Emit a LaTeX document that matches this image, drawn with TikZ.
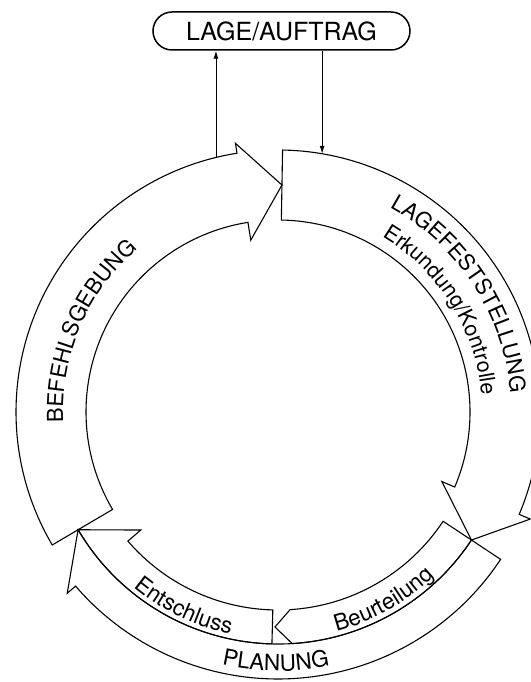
\documentclass[tikz,border=0pt]{standalone}
\usepackage{fontspec}
\setmainfont{TeX Gyre Heros}
\usetikzlibrary{arrows.meta,decorations.text}

\newcommand{\bandfont}{\fontsize{22}{26}\selectfont}
\newcommand{\lowfont}{\fontsize{22.5}{26}\selectfont}

\begin{document}
\begin{tikzpicture}[x=1pt,y=1pt,
    band/.style={draw, line width=1.1pt},
    curved/.style={decorate, decoration={text along path, text align=center, text={#1}}},
    link/.style={line width=0.9pt, -{Latex[length=8pt,width=5pt]}}]
    \useasboundingbox (-278,-270) rectangle (252,412);
    \def\ri{192} \def\ro{262}            % main ring
    \def\li{198} \def\lm{232} \def\lo{267} % lower bands

    % Lage / Auftrag
    \node[draw, line width=1.5pt, rounded corners=19pt, minimum width=257pt,
          minimum height=38pt, font=\fontsize{25}{28}\selectfont] (lage) at (3.5,381) {LAGE/AUFTRAG};

    % Lagefeststellung
    \draw[band] (89:\ro) arc[start angle=89, end angle=-23, radius=\ro]
        -- (-23:274) -- (-33.5:\lm) -- (-23:178) -- (-23:\ri)
        arc[start angle=-23, end angle=89, radius=\ri] -- cycle;
    \path[curved={|\bandfont|LAGEFESTSTELLUNG}] (78:233) arc[start angle=78, end angle=-12, radius=233];
    \path[curved={|\fontsize{21.5}{26}\selectfont|Erkundung/Kontrolle}] (77:204) arc[start angle=77, end angle=-13, radius=204];

    % Befehlsgebung
    \draw[band] (210.5:\ro) arc[start angle=210.5, end angle=99, radius=\ro]
        -- (99:272) -- (89:227) -- (99:174) -- (99:\ri)
        arc[start angle=99, end angle=210.5, radius=\ri] -- cycle;
    \path[curved={|\bandfont|BEFEHLSGEBUNG}] (201.75:215) arc[start angle=201.75, end angle=111.75, radius=215];

    % Planung: Beurteilung, Entschluss
    \draw[band] (-33.5:\li) -- (-33.5:\lm) arc[start angle=-33.5, end angle=-86.5, radius=\lm]
        -- (-90.8:215) -- (-86.5:\li) arc[start angle=-86.5, end angle=-33.5, radius=\li] -- cycle;
    \draw[band] (-91.5:\li) -- (-91.5:\lm) arc[start angle=-91.5, end angle=-149.5, radius=\lm]
        -- (-139.3:181) -- (-139.3:\li) arc[start angle=-139.3, end angle=-91.5, radius=\li] -- cycle;
    \draw[band] (-33.5:\lm) -- (-33.5:\lo) arc[start angle=-33.5, end angle=-139.3, radius=\lo]
        -- (-139.3:278) -- (-149.5:\lm) arc[start angle=-149.5, end angle=-33.5, radius=\lm] -- cycle;
    \path[curved={|\lowfont|Beurteilung}] (-85.7:227) arc[start angle=-85.7, end angle=-35.7, radius=227];
    \path[curved={|\lowfont|Entschluss}] (-140.8:227) arc[start angle=-140.8, end angle=-90.8, radius=227];
    \path[curved={|\lowfont|PLANUNG}] (-120.5:259) arc[start angle=-120.5, end angle=-60.5, radius=259];

    % connections to Lage / Auftrag
    \coordinate (befout) at (103.7:\ro);
    \coordinate (lagein) at (80.3:\ro);
    \draw[link] (befout) -- (befout |- lage.south);
    \draw[link] (lage.south -| lagein) -- (lagein);
\end{tikzpicture}
\end{document}
